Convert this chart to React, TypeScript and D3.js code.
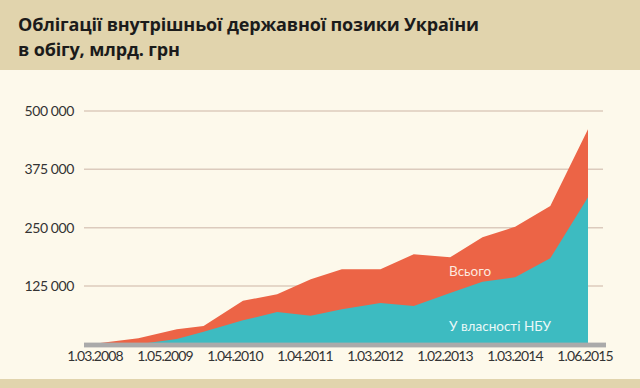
import * as d3 from "d3";
import { useEffect, useRef } from "react";

const TITLE = ["Облігації внутрішньої державної позики України", "в обігу, млрд. грн"];

const dates = [
  "2008-03-01", "2008-10-15", "2009-05-10", "2009-10-01", "2010-05-01",
  "2010-11-01", "2011-05-01", "2011-10-15", "2012-05-10", "2012-11-05",
  "2013-05-20", "2013-11-10", "2014-05-05", "2014-11-10", "2015-06-01",
];
const totalValues = [
  1500, 12900, 32100, 39200, 93400, 107100, 139300, 160700, 160700, 192900,
  186400, 229300, 252000, 296400, 460700,
];
const nbuValues = [
  0, 0, 11400, 27000, 51400, 69200, 61300, 75000, 88500, 82100, 110000,
  134100, 143600, 184300, 315000,
];

const xLabels = [
  "1.03.2008", "1.05.2009", "1.04.2010", "1.04.2011",
  "1.03.2012", "1.02.2013", "1.03.2014", "1.06.2015",
];
const yTicks = [125000, 250000, 375000, 500000];

const W = 640;
const H = 388;
const TAN = "#e1d4ad";
const CREAM = "#fdf9eb";
const ORANGE = "#ec6446";
const TEAL = "#3dbbc1";

export default function App() {
  const svgRef = useRef<SVGSVGElement | null>(null);

  useEffect(() => {
    const svg = d3.select(svgRef.current);
    svg.selectAll("*").remove();
    svg.attr("width", W).attr("height", H);

    const parse = d3.timeParse("%Y-%m-%d");
    const rows = dates.map((d, i) => ({
      date: parse(d) as Date,
      total: totalValues[i],
      nbu: nbuValues[i],
    }));

    const x = d3
      .scaleTime()
      .domain([rows[0].date, rows[rows.length - 1].date])
      .range([96, 588]);
    const y = d3.scaleLinear().domain([0, 500000]).range([344.3, 111]);
    const xl = d3.scalePoint().domain(xLabels).range([95, 585]);

    const fmt = d3.formatLocale({
      decimal: ",",
      thousands: " ",
      grouping: [3],
      currency: ["", ""],
    }).format(",");

    // background
    svg.append("rect").attr("width", W).attr("height", H).attr("fill", CREAM);
    svg.append("rect").attr("width", W).attr("height", 70).attr("fill", TAN);
    svg.append("rect").attr("y", 379).attr("width", W).attr("height", 9).attr("fill", TAN);

    // title
    const title = svg
      .append("text")
      .attr("font-family", "'Open Sans', sans-serif")
      .attr("font-weight", 700)
      .attr("font-size", 18)
      .attr("letter-spacing", -0.15)
      .attr("fill", "#1b1b1b");
    TITLE.forEach((t, i) => {
      title.append("tspan").attr("x", 18).attr("y", 31 + i * 25).text(t);
    });

    // gridlines
    svg
      .append("g")
      .selectAll("line")
      .data(yTicks)
      .enter()
      .append("line")
      .attr("x1", 84)
      .attr("x2", 603)
      .attr("y1", d => y(d))
      .attr("y2", d => y(d))
      .attr("stroke", "#dccbbd")
      .attr("stroke-width", 1.5);

    // y labels
    svg
      .append("g")
      .selectAll("text")
      .data(yTicks)
      .enter()
      .append("text")
      .attr("x", 74)
      .attr("y", d => y(d) + 5)
      .attr("text-anchor", "end")
      .attr("font-family", "Lato, sans-serif")
      .attr("font-size", 14)
      .attr("letter-spacing", -0.4)
      .attr("fill", "#333")
      .text(d => fmt(d));

    // areas: total underneath, NBU share on top
    const areaTotal = d3
      .area<(typeof rows)[number]>()
      .x(d => x(d.date))
      .y0(y(0))
      .y1(d => y(d.total));
    const areaNbu = d3
      .area<(typeof rows)[number]>()
      .x(d => x(d.date))
      .y0(y(0))
      .y1(d => y(d.nbu));

    svg.append("path").datum(rows).attr("d", areaTotal).attr("fill", ORANGE);
    svg.append("path").datum(rows).attr("d", areaNbu).attr("fill", TEAL);

    // baseline bar
    svg
      .append("rect")
      .attr("x", 84)
      .attr("y", y(0) - 1.7)
      .attr("width", 522)
      .attr("height", 4.8)
      .attr("fill", "#aaaaaa");

    // x labels
    svg
      .append("g")
      .selectAll("text")
      .data(xLabels)
      .enter()
      .append("text")
      .attr("x", d => xl(d) as number)
      .attr("y", 361)
      .attr("text-anchor", "middle")
      .attr("font-family", "Lato, sans-serif")
      .attr("font-size", 14)
      .attr("letter-spacing", -0.9)
      .attr("fill", "#333")
      .text(d => d);

    // in-area labels
    svg
      .append("text")
      .attr("x", 449)
      .attr("y", 275.5)
      .attr("font-family", "Lato, sans-serif")
      .attr("font-size", 13.5)
      .attr("fill", "#fde9df")
      .text("Всього");
    svg
      .append("text")
      .attr("x", 449)
      .attr("y", 331)
      .attr("font-family", "Lato, sans-serif")
      .attr("font-size", 13.5)
      .attr("fill", "#eaf8f8")
      .text("У власності НБУ");
  }, []);

  return (
    <div style={{ position: "absolute", left: 0, top: 0 }}>
      <svg ref={svgRef} style={{ display: "block" }} />
    </div>
  );
}
